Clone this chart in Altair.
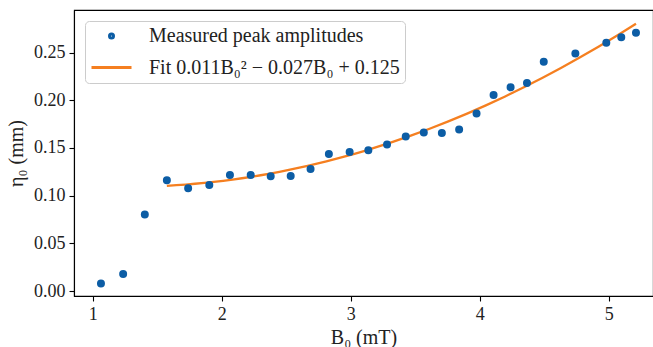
import altair as alt
import pandas as pd

b0 = [1.064, 1.236, 1.404, 1.575, 1.740, 1.904, 2.064, 2.225, 2.380, 2.535,
      2.689, 2.831, 2.992, 3.137, 3.282, 3.427, 3.567, 3.707, 3.841, 3.976,
      4.108, 4.240, 4.367, 4.497, 4.742, 4.982, 5.098, 5.212]
eta = [0.0080, 0.0178, 0.0803, 0.1162, 0.1079, 0.1113, 0.1218, 0.1218, 0.1204, 0.1207,
       0.1280, 0.1438, 0.1459, 0.1476, 0.1536, 0.1620, 0.1662, 0.1658, 0.1693, 0.1861,
       0.2056, 0.2136, 0.2181, 0.2405, 0.2492, 0.2604, 0.2660, 0.2709]
fit_start = 1.5

series_names = ["Measured peak amplitudes", "Fit 0.011B₀² − 0.027B₀ + 0.125"]
series_colors = ["#0C5DA5", "#F57F20"]
x_ticks = [1, 2, 3, 4, 5]
y_ticks = [0.0, 0.05, 0.10, 0.15, 0.20, 0.25]

df = pd.DataFrame({"B0": b0, "eta": eta, "series": series_names[0]})

FONT = "Liberation Serif"

xscale = alt.Scale(domain=[0.855, 5.344], nice=False, zero=False)
yscale = alt.Scale(domain=[-0.0052, 0.2947], nice=False, zero=False)

xaxis = alt.Axis(values=x_ticks, format="d", title="B₀ (mT)", grid=False)
yaxis = alt.Axis(values=y_ticks, format=".2f", title="η₀ (mm)", grid=False)

base = alt.Chart(df)

points = base.mark_point(filled=False, strokeWidth=4, opacity=1).encode(
    x=alt.X("B0:Q", scale=xscale, axis=xaxis),
    y=alt.Y("eta:Q", scale=yscale, axis=yaxis),
    color=alt.Color("series:N", scale=alt.Scale(domain=series_names, range=series_colors),
                    legend=alt.Legend(title=None)),
    shape=alt.Shape("series:N", scale=alt.Scale(domain=series_names, range=["circle", "stroke"]),
                    legend=alt.Legend(title=None)),
    size=alt.Size("series:N", scale=alt.Scale(domain=series_names, range=[16, 1600]),
                  legend=alt.Legend(title=None)),
)

fit = base.transform_filter(
    alt.datum.B0 >= fit_start
).transform_regression(
    "B0", "eta", method="poly", order=2
).mark_line(strokeWidth=2.3, color=series_colors[1]).encode(
    x=alt.X("B0:Q", scale=xscale),
    y=alt.Y("eta:Q", scale=yscale),
)

chart = alt.layer(fit, points).properties(
    width=579, height=286,
    padding={"left": 74, "top": 10, "right": 0, "bottom": 51},
    autosize=alt.AutoSizeParams(type="none"),
).configure_view(
    stroke="black", strokeWidth=1.1
).configure_axis(
    domainColor="black", domainWidth=1.1,
    tickColor="black", tickWidth=1.1, tickSize=5,
    labelFont=FONT, labelFontSize=18, labelColor="#222222", labelPadding=4,
    titleFont=FONT, titleFontSize=20, titleColor="#222222", titleFontWeight="normal",
).configure_axisY(
    titlePadding=7
).configure_axisX(
    titlePadding=4
).configure_legend(
    orient="top-left", offset=11, padding=5,
    strokeColor="#cccccc", cornerRadius=4, fillColor="rgba(255,255,255,0.85)",
    labelFont=FONT, labelFontSize=20, labelColor="#222222", labelOffset=16,
    symbolStrokeWidth=3, rowPadding=0, labelLimit=400,
)

chart.save("out.html", embed_options={"renderer": "svg", "actions": False})
